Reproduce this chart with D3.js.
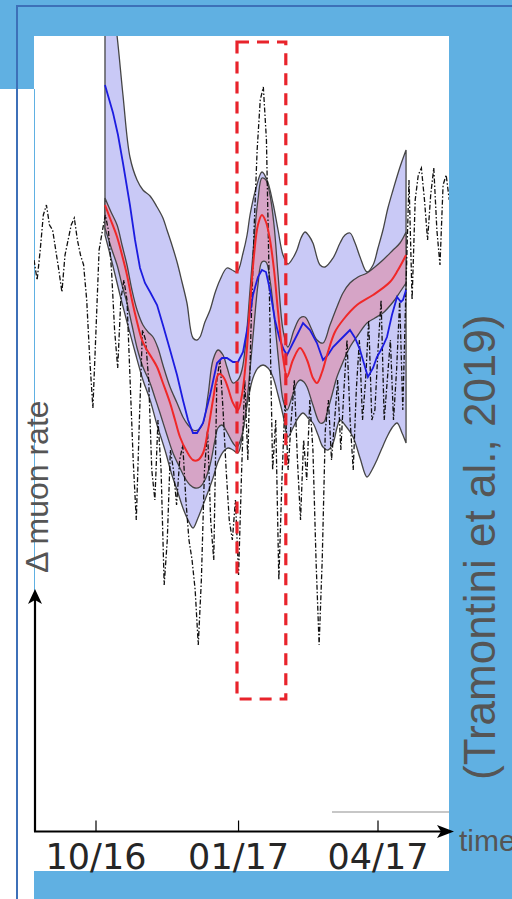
<!DOCTYPE html>
<html>
<head>
<meta charset="utf-8">
<script src="https://cdn.jsdelivr.net/npm/d3@7"></script>
<style>
  html, body { margin: 0; padding: 0; background: #60b0e2; }
  svg { display: block; }
</style>
</head>
<body>
<svg id="chart" width="512" height="899"></svg>
<script>
// ---- data --------------------------------------------------------------
// x values are days since 2016-10-01, y values are the muon-rate change (arb. units)
const tickDates = ["2016-10-01", "2017-01-01", "2017-04-01"];
const tickLabels = ["10/16", "01/17", "04/17"];

// measured series, one value every 2 days starting 40 days before 10/16
const observedStartDay = -40;
const observedStepDays = 2;
const observed = [
  1.90, 1.70, 2.00, 2.35, 2.45, 2.25, 2.20, 2.00, 1.80, 1.58,
  1.95, 2.10, 2.25, 2.32, 2.10, 1.95, 1.85, 1.50, 0.90, 0.42,
  1.20, 2.00, 2.18, 2.35, 2.20, 1.80, 1.20, 0.82, 1.50, 1.70,
  1.50, 0.70, -0.10, -0.70, 0.30, 1.20, 1.10, 0.70, -0.20, -0.50,
  0.30, -0.20, -1.35, -0.90, 0.00, -0.20, -0.55, -0.10, 0.05, -0.50,
  -0.90, -1.10, -1.40, -1.95, -1.30, -0.20, 0.20, -0.70, -1.10, 0.70,
  0.90, 0.40, -0.20, -0.70, -0.90, -0.50, -1.25, -0.20, 0.70, -0.10,
  1.20, 2.20, 3.00, 3.50, 3.63, 3.10, 1.50, -0.20, 0.30, -1.30,
  -0.30, 0.50, -0.20, 0.30, 0.70, -0.10, -0.70, 0.10, -0.30, 0.50,
  0.00, -1.10, -1.95, -1.10, 0.20, 0.50, -0.10, 0.30, 0.70, 0.00,
  0.60, 1.10, 0.30, -0.20, 0.60, 1.10, 0.30, 0.70, 1.30, 0.30,
  0.40, 1.00, 1.50, 0.30, 0.70, 1.10, 0.30, 0.80, 1.50, 0.40,
  1.60, 2.70, 1.50, 2.50, 2.75, 2.82, 2.50, 2.10, 2.55, 2.82,
  2.20, 1.85, 2.65, 2.75, 2.50
];

// wide (blue) uncertainty envelope
const envelopeUpper = [
  [5.8, 5.10], [9.7, 4.60], [13.6, 4.14], [17.4, 3.55], [21.9, 2.93], [26.5, 2.70],
  [30.3, 2.60], [34.9, 2.54], [39.4, 2.43], [43.2, 2.32], [45.8, 2.20], [49.0, 2.05],
  [52.3, 1.88], [55.5, 1.68], [58.7, 1.47], [62.6, 1.12], [65.2, 1.10], [67.1, 1.13],
  [70.3, 1.28], [73.6, 1.40], [76.8, 1.57], [80.0, 1.70], [84.5, 1.82], [87.8, 1.80],
  [91.0, 1.78], [94.9, 1.97], [97.5, 2.15], [99.4, 2.35], [103.3, 2.62], [107.1, 2.78],
  [110.4, 2.70], [114.2, 2.47], [117.5, 2.20], [120.7, 1.95], [123.9, 1.86], [127.1, 1.92],
  [129.7, 2.00], [132.3, 2.12], [134.9, 2.18], [137.5, 2.14], [140.0, 2.07], [144.6, 1.85],
  [147.8, 1.83], [153.0, 1.92], [157.5, 2.07], [160.7, 2.15], [163.9, 2.17], [167.2, 2.07],
  [170.4, 1.93], [174.9, 1.78], [178.8, 1.85], [182.0, 2.02], [185.2, 2.20], [188.4, 2.42],
  [191.7, 2.60], [196.2, 2.83], [200.1, 3.00]
];
const envelopeLower = [
  [5.8, 2.15], [10.3, 1.88], [15.5, 1.55], [20.0, 1.28], [25.2, 0.98], [30.3, 0.70],
  [34.9, 0.50], [39.4, 0.25], [44.5, 0.00], [49.0, -0.25], [52.3, -0.40], [56.1, -0.58],
  [59.4, -0.70], [62.6, -0.78], [65.8, -0.68], [69.1, -0.55], [72.3, -0.42], [75.5, -0.28],
  [78.7, -0.12], [82.0, -0.02], [85.2, 0.02], [88.4, 0.00], [91.6, -0.03], [94.9, 0.20],
  [98.1, 0.50], [101.3, 0.72], [104.5, 0.82], [107.8, 0.85], [111.0, 0.82], [114.2, 0.73],
  [117.5, 0.55], [120.7, 0.35], [123.9, 0.13], [127.1, 0.22], [130.4, 0.32], [133.6, 0.37],
  [136.8, 0.32], [140.0, 0.27], [143.3, 0.15], [146.5, 0.03], [149.7, 0.00], [153.0, 0.07],
  [155.5, 0.22], [157.5, 0.30], [160.7, 0.25], [165.9, 0.13], [170.4, -0.08], [174.9, -0.27],
  [178.1, -0.20], [181.3, -0.10], [184.6, 0.02], [187.8, 0.13], [191.0, 0.22], [194.3, 0.27],
  [197.5, 0.17], [200.1, 0.07]
];

// narrow (red) band
const bandUpper = [
  [5.8, 2.52], [9.7, 2.38], [13.6, 2.25], [16.8, 2.05], [20.0, 1.85], [23.2, 1.60],
  [26.5, 1.40], [30.3, 1.25], [33.6, 1.18], [36.8, 1.13], [40.0, 1.02], [43.2, 0.85],
  [47.8, 0.63], [52.3, 0.47], [56.1, 0.33], [59.4, 0.25], [62.6, 0.20], [65.8, 0.20],
  [69.1, 0.27], [72.3, 0.55], [75.5, 0.90], [78.7, 1.00], [82.0, 0.95], [84.5, 0.83],
  [88.4, 0.67], [91.6, 0.70], [94.2, 0.80], [96.8, 1.10], [99.4, 1.60], [102.0, 2.10],
  [104.5, 2.50], [107.1, 2.72], [109.7, 2.70], [112.3, 2.55], [114.9, 2.25], [117.5, 1.75],
  [120.7, 1.20], [123.9, 1.03], [127.8, 1.20], [131.7, 1.32], [134.9, 1.33], [138.8, 1.22],
  [142.6, 1.10], [146.5, 1.07], [151.0, 1.25], [155.5, 1.43], [159.4, 1.57], [163.9, 1.67],
  [169.1, 1.73], [174.9, 1.77], [180.0, 1.83], [185.2, 1.90], [191.7, 2.00], [196.2, 2.07],
  [200.1, 2.18]
];
const bandLower = [
  [5.8, 2.22], [10.3, 2.00], [13.6, 1.85], [16.8, 1.65], [20.0, 1.47], [23.2, 1.25],
  [26.5, 1.02], [30.3, 0.83], [34.9, 0.67], [38.1, 0.52], [41.3, 0.37], [45.8, 0.15],
  [49.7, -0.03], [54.2, -0.18], [57.4, -0.28], [60.7, -0.35], [63.9, -0.38], [67.1, -0.37],
  [70.3, -0.30], [73.6, -0.15], [76.8, 0.10], [78.7, 0.22], [81.3, 0.25], [84.5, 0.18],
  [88.4, 0.07], [91.0, 0.03], [94.2, 0.15], [96.8, 0.40], [99.4, 0.80], [102.0, 1.25],
  [104.5, 1.65], [107.1, 1.88], [109.7, 1.88], [112.3, 1.70], [114.9, 1.35], [118.1, 0.85],
  [120.7, 0.50], [123.3, 0.40], [126.5, 0.53], [129.7, 0.67], [131.7, 0.70], [134.2, 0.68],
  [136.2, 0.63], [140.0, 0.45], [144.6, 0.27], [147.2, 0.28], [149.1, 0.37], [152.3, 0.55],
  [155.5, 0.73], [159.4, 0.88], [163.9, 1.03], [169.1, 1.15], [174.9, 1.27], [180.0, 1.32],
  [185.2, 1.37], [191.7, 1.48], [196.2, 1.58], [200.1, 1.67]
];

// central estimates
const redMean = [
  [5.8, 2.45], [9.0, 2.32], [13.6, 2.13], [16.8, 1.95], [20.0, 1.75], [23.2, 1.50],
  [26.5, 1.28], [29.7, 1.10], [32.9, 1.00], [36.1, 0.92], [39.4, 0.83], [43.2, 0.67],
  [47.8, 0.47], [51.0, 0.30], [54.2, 0.13], [58.1, 0.00], [62.6, -0.10], [65.8, -0.10],
  [69.1, -0.03], [72.3, 0.20], [75.5, 0.50], [78.7, 0.75], [80.0, 0.76], [82.6, 0.72],
  [85.2, 0.62], [88.4, 0.47], [91.6, 0.40], [94.2, 0.55], [96.8, 0.90], [99.4, 1.45],
  [102.0, 1.95], [104.5, 2.25], [107.1, 2.35], [109.7, 2.28], [112.3, 2.10], [114.9, 1.80],
  [117.5, 1.38], [120.7, 0.93], [123.3, 0.73], [127.1, 0.90], [131.7, 1.02], [136.2, 0.90],
  [140.0, 0.72], [142.6, 0.67], [145.9, 0.78], [149.1, 0.95], [154.2, 1.18], [159.4, 1.30],
  [168.4, 1.45], [178.8, 1.55], [189.7, 1.68], [194.9, 1.80], [200.1, 1.95]
];
const blueMean = [
  [5.8, 3.65], [11.0, 3.37], [14.2, 3.15], [17.4, 2.87], [21.9, 2.45], [25.2, 2.10],
  [28.4, 1.82], [31.6, 1.67], [34.9, 1.58], [39.4, 1.45], [43.2, 1.25], [47.8, 1.00],
  [52.3, 0.75], [56.1, 0.50], [59.4, 0.30], [62.6, 0.17], [65.2, 0.17], [69.1, 0.27],
  [73.6, 0.55], [78.1, 0.87], [81.3, 0.92], [84.5, 0.92], [88.4, 0.88], [91.6, 0.88],
  [94.9, 0.98], [98.1, 1.25], [101.3, 1.55], [104.5, 1.73], [107.1, 1.80], [109.7, 1.78],
  [112.3, 1.60], [115.5, 1.30], [118.7, 1.10], [121.3, 1.00], [123.3, 0.95], [127.1, 1.07],
  [130.4, 1.17], [133.6, 1.27], [138.1, 1.20], [142.6, 1.07], [146.5, 0.90], [149.7, 0.95],
  [153.0, 1.03], [157.5, 1.10], [163.9, 1.20], [167.2, 1.12], [170.4, 1.00], [175.5, 0.73],
  [178.8, 0.82], [181.3, 0.93], [184.6, 1.02], [187.8, 1.13], [191.0, 1.35], [194.3, 1.53],
  [196.8, 1.48], [198.1, 1.50], [200.1, 1.60]
];

// highlighted period (days) and its value range
const highlightDays = [91, 122.5];
const highlightValues = [-2.49, 4.08];

// ---- drawing ------------------------------------------------------------
const svg = d3.select("#chart");
const DAY = 864e5;
const t0 = Date.UTC(2016, 9, 1);
const toDate = d => new Date(t0 + d * DAY);
const parseDay = s => Date.parse(s + "T00:00:00Z");

const x = d3.scaleUtc()
  .domain([new Date(parseDay(tickDates[0])), new Date(parseDay(tickDates[2]))])
  .range([96, 378]);
const y = d3.scaleLinear().domain([-4, 4]).range([850, 50]);

// slide frame
svg.append("rect").attr("x", 0).attr("y", 89).attr("width", 34).attr("height", 810).attr("fill", "#ffffff");
svg.append("line").attr("x1", 17).attr("y1", 6).attr("x2", 17).attr("y2", 899)
  .attr("stroke", "#3d70b8").attr("stroke-width", 2);
svg.append("line").attr("x1", 16).attr("y1", 6).attr("x2", 512).attr("y2", 6)
  .attr("stroke", "#3d70b8").attr("stroke-width", 2);

// figure panel
svg.append("rect").attr("x", 34).attr("y", 36).attr("width", 415).attr("height", 835).attr("fill", "#ffffff");
svg.append("line").attr("x1", 34.5).attr("y1", 89).attr("x2", 34.5).attr("y2", 600)
  .attr("stroke", "#60b0e2").attr("stroke-width", 1);

svg.append("defs").append("clipPath").attr("id", "plotClip")
  .append("rect").attr("x", 34).attr("y", 36).attr("width", 415).attr("height", 835);
const plot = svg.append("g").attr("clip-path", "url(#plotClip)");

const smooth = d3.line()
  .x(d => x(toDate(d[0])))
  .y(d => y(d[1]))
  .curve(d3.curveCatmullRom.alpha(0.5));
const straight = d3.line()
  .x(d => x(toDate(d[0])))
  .y(d => y(d[1]));

function bandPath(upper, lower) {
  const top = smooth(upper);
  const bottom = smooth(lower.slice().reverse());
  return top + "L" + bottom.slice(1) + "Z";
}

plot.append("path").attr("d", bandPath(envelopeUpper, envelopeLower))
  .attr("fill", "#c9c9f6").attr("stroke", "#454545").attr("stroke-width", 1.3);
plot.append("path").attr("d", bandPath(bandUpper, bandLower))
  .attr("fill", "#d6a4c6").attr("stroke", "#454545").attr("stroke-width", 1.3);

const obsPoints = observed.map((v, i) => [observedStartDay + i * observedStepDays, v]);
plot.append("path").attr("d", straight(obsPoints))
  .attr("fill", "none").attr("stroke", "#111").attr("stroke-width", 1.3)
  .attr("stroke-dasharray", "5,2,1.5,2");

plot.append("path").attr("d", straight(blueMean))
  .attr("fill", "none").attr("stroke", "#1c1ce0").attr("stroke-width", 1.8);
plot.append("path").attr("d", smooth(redMean))
  .attr("fill", "none").attr("stroke", "#f02828").attr("stroke-width", 2);

// highlighted window
const hx0 = x(toDate(highlightDays[0])), hx1 = x(toDate(highlightDays[1]));
const hy0 = y(highlightValues[1]), hy1 = y(highlightValues[0]);
plot.append("rect")
  .attr("x", hx0).attr("y", hy0).attr("width", hx1 - hx0).attr("height", hy1 - hy0)
  .attr("fill", "none").attr("stroke", "#e8232b").attr("stroke-width", 3.2)
  .attr("stroke-dasharray", "12,8");

// faint rule near the bottom right of the panel
svg.append("line").attr("x1", 332).attr("y1", 812).attr("x2", 449).attr("y2", 812)
  .attr("stroke", "#b4b4b4").attr("stroke-width", 1.5);

// axes with arrow heads
const axisY = 831.5;
svg.append("line").attr("x1", 35).attr("y1", axisY).attr("x2", 35).attr("y2", 598)
  .attr("stroke", "#000").attr("stroke-width", 2.2);
svg.append("line").attr("x1", 34).attr("y1", axisY).attr("x2", 445).attr("y2", axisY)
  .attr("stroke", "#000").attr("stroke-width", 2.2);
svg.append("path").attr("d", "M35,589 L42,604 L35,600 L28,604 Z").attr("fill", "#000");
svg.append("path").attr("d", `M454,${axisY} L437,${axisY - 6.5} L441,${axisY} L437,${axisY + 6.5} Z`).attr("fill", "#000");

const ticks = tickDates.map((s, i) => ({ date: new Date(parseDay(s)), label: tickLabels[i] }));
svg.selectAll(".tick").data(ticks).enter().append("line")
  .attr("x1", d => x(d.date)).attr("x2", d => x(d.date))
  .attr("y1", axisY - 11).attr("y2", axisY)
  .attr("stroke", "#000").attr("stroke-width", 1.2);
svg.selectAll(".tickLabel").data(ticks).enter().append("text")
  .attr("x", d => x(d.date)).attr("y", 869)
  .attr("text-anchor", "middle")
  .attr("font-family", "DejaVu Sans")
  .attr("font-size", 35)
  .attr("fill", "#262626")
  .text(d => d.label);

// axis titles and citation
svg.append("text").attr("x", 459).attr("y", 851)
  .attr("font-family", "Liberation Sans").attr("font-size", 30).attr("fill", "#555")
  .text("time");
svg.append("text").attr("transform", "translate(48,573) rotate(-90)")
  .attr("font-family", "Liberation Sans").attr("font-size", 32).attr("fill", "#555")
  .text("Δ muon rate");
svg.append("text").attr("transform", "translate(495,780) rotate(-90)")
  .attr("font-family", "Liberation Sans").attr("font-size", 44).attr("fill", "#555")
  .text("(Tramontini et al., 2019)");
</script>
</body>
</html>
